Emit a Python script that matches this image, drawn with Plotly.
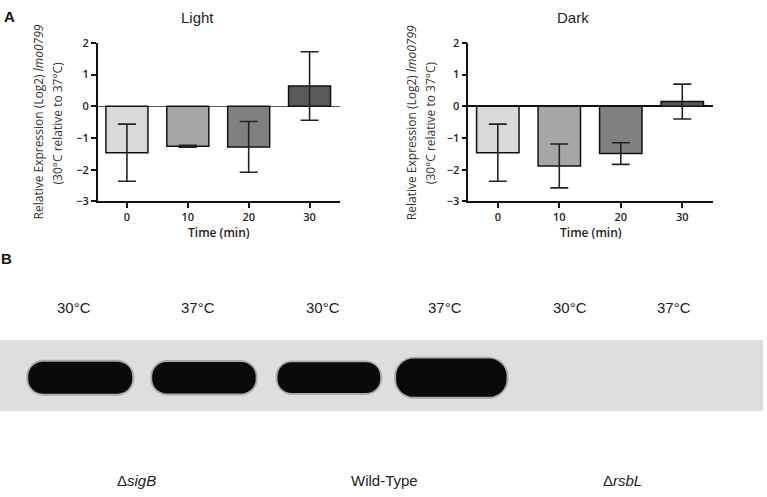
import plotly.graph_objects as go

# Panel A: relative expression of lmo0799 (30C vs 37C), mean +/- error
time_labels = ["0", "10", "20", "30"]
light_mean = [-1.46, -1.26, -1.28, 0.64]
light_err = [0.90, 0.03, 0.80, 1.08]
dark_mean = [-1.46, -1.88, -1.49, 0.15]
dark_err = [0.90, 0.69, 0.34, 0.55]

# Panel B: western blot lanes
lane_temps = ["30°C", "37°C", "30°C", "37°C", "30°C", "37°C"]
strains = ["Δ<i>sigB</i>", "Wild-Type", "Δ<i>rsbL</i>"]
band_signal = [1.0, 0.98, 0.95, 1.27, 0.0, 0.0]

W, H = 767, 497
bar_colors = ["#d9d9d9", "#a6a6a6", "#808080", "#595959"]
lane_x = [0.60, 1.60, 2.61, 3.60, 4.61, 5.45]   # lane centres on the blot axis


def px(x):
    return x / W


def py(y):
    return 1 - y / H


fig = go.Figure()

for mean, err, xa, ya in [(light_mean, light_err, "x", "y"), (dark_mean, dark_err, "x2", "y2")]:
    fig.add_trace(go.Bar(
        x=time_labels, y=mean, xaxis=xa, yaxis=ya,
        marker=dict(color=bar_colors, line=dict(color="#111111", width=1.5)),
        error_y=dict(type="data", array=err, visible=True, color="#222222", thickness=1.6, width=9),
        showlegend=False, hoverinfo="skip",
    ))

tick_font = dict(family="Open Sans", size=11, color="#222222", weight=600)
xcommon = dict(type="category", range=[-0.48, 3.5], showline=True, linecolor="#111111", linewidth=1.5,
               ticks="outside", ticklen=5, tickwidth=1.5, tickcolor="#111111", tickfont=tick_font,
               showgrid=False, zeroline=False, fixedrange=True)
ycommon = dict(range=[-3, 2], dtick=1, showline=True, linecolor="#111111", linewidth=1.5,
               ticks="outside", ticklen=5, tickwidth=1.5, tickcolor="#111111", tickfont=tick_font,
               showgrid=False, zeroline=True, fixedrange=True,
               domain=[py(199.5), py(36)])

fig.update_layout(
    width=W, height=H,
    margin=dict(l=0, r=0, t=0, b=0),
    paper_bgcolor="white", plot_bgcolor="rgba(0,0,0,0)",
    bargap=0.31,
    xaxis=dict(xcommon, domain=[px(97.7), px(340)], anchor="y"),
    yaxis=dict(ycommon, anchor="x", zerolinecolor="#555555", zerolinewidth=1),
    xaxis2=dict(xcommon, domain=[px(468.3), px(713)], anchor="y2"),
    yaxis2=dict(ycommon, anchor="x2", zerolinecolor="#111111", zerolinewidth=1.5),
    xaxis3=dict(range=[0, W / 123.7], domain=[0, 1], anchor="y3", visible=False, fixedrange=True),
    yaxis3=dict(range=[0, 1], domain=[py(416), py(342)], anchor="x3", visible=False, fixedrange=True),
)

# the blot: gel background and bands drawn on the lane axis
ux = 123.7   # px per lane unit
uy = 74.0    # px per gel unit
fig.add_shape(type="rect", xref="x3", yref="y3", x0=0, x1=763 / ux, y0=0, y1=1,
              fillcolor="#dedede", line=dict(width=0), layer="below")


def band_path(cx, cy, w, h, r):
    # rounded band in px around (cx, cy) given in axis units, returned in axis units
    k = 0.55 * r
    cxp, cyp = cx * ux, cy * uy
    x0, x1 = cxp - w / 2, cxp + w / 2
    y0, y1 = cyp - h / 2, cyp + h / 2
    pts = [
        ("M", [(x0 + r, y0)]),
        ("L", [(x1 - r, y0)]),
        ("C", [(x1 - r + k, y0), (x1, y0 + r - k), (x1, y0 + r)]),
        ("L", [(x1, y1 - r)]),
        ("C", [(x1, y1 - r + k), (x1 - r + k, y1), (x1 - r, y1)]),
        ("L", [(x0 + r, y1)]),
        ("C", [(x0 + r - k, y1), (x0, y1 - r + k), (x0, y1 - r)]),
        ("L", [(x0, y0 + r)]),
        ("C", [(x0, y0 + r - k), (x0 + r - k, y0), (x0 + r, y0)]),
    ]
    out = ""
    for cmd, ps in pts:
        out += cmd + " ".join(f"{x / ux:.5f},{y / uy:.5f}" for x, y in ps) + " "
    return out + "Z"


for lx, s in zip(lane_x, band_signal):
    if s <= 0:
        continue
    w = 104 * s ** 0.25
    h = 33 * s ** 0.75
    cx = lx + 6 / ux
    cy = 0.47
    fig.add_shape(type="path", xref="x3", yref="y3", path=band_path(cx, cy, w + 4, h + 4, 0.47 * (h + 4)),
                  fillcolor="#6a6a6a", line=dict(width=0), opacity=0.45)
    fig.add_shape(type="path", xref="x3", yref="y3", path=band_path(cx, cy, w, h, 0.45 * h),
                  fillcolor="#0a0a0a", line=dict(width=0))

blot_font = dict(family="Liberation Sans Narrow, Arial Narrow, Liberation Sans, Arial", size=15, color="#222222")
for lx, t in zip(lane_x, lane_temps):
    fig.add_annotation(x=lx, y=py(309), xref="x3", yref="paper", text=t, showarrow=False,
                       font=blot_font, xanchor="center", yanchor="middle")
for i, s in enumerate(strains):
    mid = (lane_x[2 * i] + lane_x[2 * i + 1]) / 2
    fig.add_annotation(x=mid, y=py(487), xref="x3", yref="paper", text=s, showarrow=False,
                       font=blot_font, xanchor="center", yanchor="middle")

# titles and labels for panel A
title_font = dict(family="Liberation Sans, Arial", size=15, color="#222222")
lab_font = dict(family="Open Sans", size=12, color="#333333")
time_font = dict(family="Open Sans", size=12, color="#222222", weight=600)
annots = [
    ("<b>A</b>", 9, 9, dict(family="Liberation Sans, Arial", size=15, color="#111111"), 0),
    ("<b>B</b>", 6, 258, dict(family="Liberation Sans, Arial", size=15, color="#111111"), 0),
    ("Light", 197, 10, title_font, 0),
    ("Dark", 573, 10, title_font, 0),
    ("Time (min)", 219, 231, time_font, 0),
    ("Time (min)", 590.6, 231, time_font, 0),
]
for x0 in [38, 411.7]:
    annots.append(("Relative Expression (Log2) <i>lmo0799</i>", x0, 118, lab_font, -90))
    annots.append(("(30°C relative to 37°C)", x0 + 19, 118, lab_font, -90))

for text, x, y, f, ang in annots:
    fig.add_annotation(x=px(x), y=py(y), xref="paper", yref="paper", text=text, showarrow=False,
                       font=f, textangle=ang, xanchor="center", yanchor="middle")

# page body has a default margin; drop it so the figure sits at the window origin
fig.write_html("out.html", config={"displayModeBar": False},
               post_script="document.body.style.margin='0';")
